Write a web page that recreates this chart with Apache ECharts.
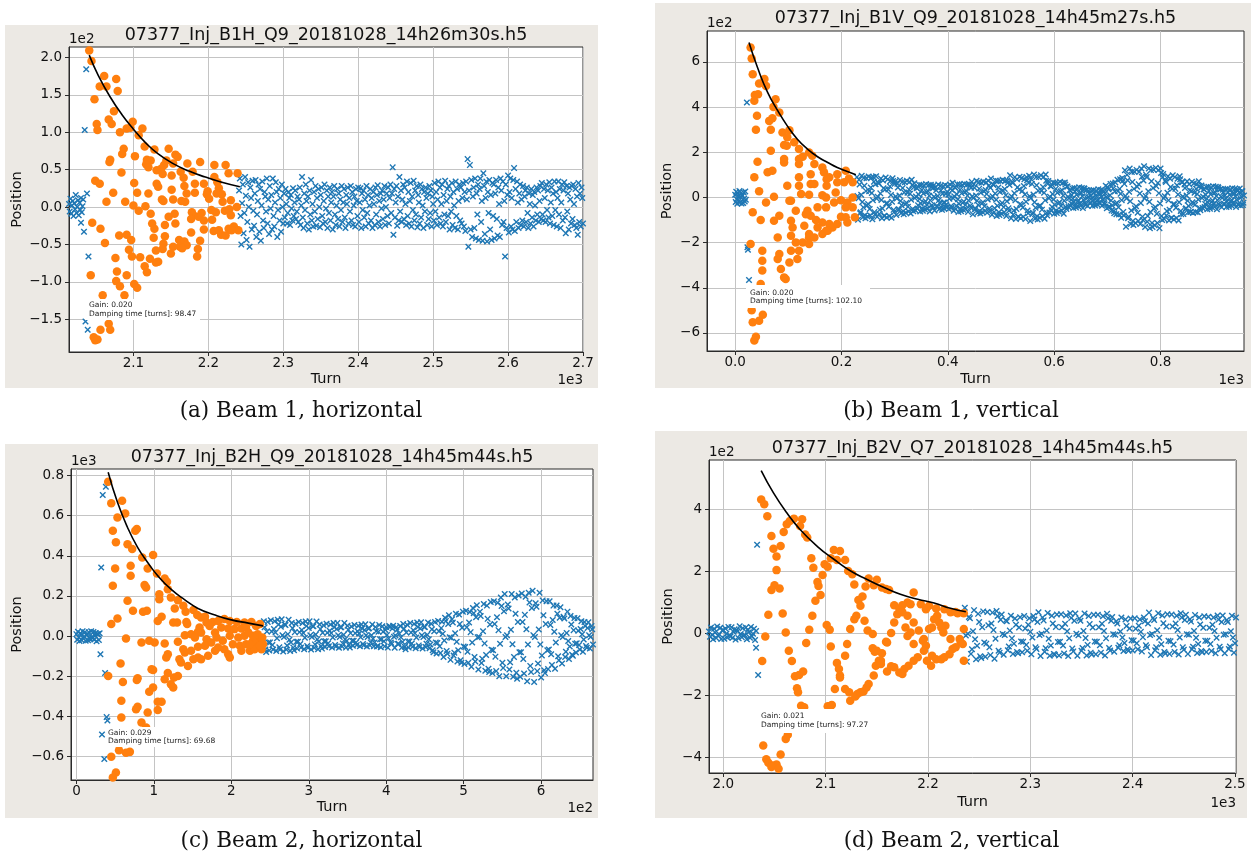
<!DOCTYPE html>
<html>
<head>
<meta charset="utf-8">
<script src="https://cdn.jsdelivr.net/npm/echarts@6/dist/echarts.min.js"></script>
<style>
html, body { margin: 0; padding: 0; background: #ffffff; }
#chart { width: 1251px; height: 859px; }
</style>
</head>
<body>
<div id="chart"></div>
<script>
// ===== Beam 1, horizontal (B1H) =====
const b1hTitle = '07377_Inj_B1H_Q9_20181028_14h26m30s.h5';
const b1hCaption = '(a) Beam 1, horizontal';
const b1hNote = ['Gain: 0.020', 'Damping time [turns]: 98.47'];
const b1hXRange = [2014, 2700];
const b1hYRange = [-193.7, 213.8];
const b1hXTicks = [2100, 2200, 2300, 2400, 2500, 2600, 2700];
const b1hYTicks = [-150, -100, -50, 0, 50, 100, 150, 200];
// turn-by-turn position before the kick, starting at turn 2014
const b1hPreStart = 2014;
const b1hPre = [4, -6, 11, -9, 2, 8, -12, 5, -3, 16, -8, 0, 9, -11, 6, -4, 12, -7, 1, 10];
// first turns after the kick that are outside the fit window
const b1hKick = [[2030, -21], [2034, -33], [2035, 103], [2036, -153], [2037, 184], [2038, 18], [2039, -164], [2040, -66]];
// turn-by-turn position after the fit window, starting at turn 2241
const b1hPostStart = 2241;
const b1hPost = [
  22, 38, -12, -50, 5, 30, -35, -8, 40, 15, -44, -20, 33, 0, -53, 26, 12, -30, 35, -5,
  -25, 18, 36, -40, -10, 8, 30, -33, 24, -45, 2, 34, -18, -28, 20, 14, -6, 38, -22, 10,
  -36, 28, -2, 16, -30, 38, -12, -26, 6, 33, 20, -40, -4, 24, -18, 12, -33, 30, 0, -22,
  18, -14, 24, 4, -22, -8, 20, 12, -24, 16, -2, -18, 25, -12, 6, 22, -16, -6, 14, -20,
  10, 26, -24, 2, 40, -14, -28, 18, -4, 30, 8, -22, 14, -30, 22, -10, 36, -18, 4, -26,
  20, -6, 28, -25, 12, -16, 24, 0, -27, 16, 26, -12, -22, 8, 30, -20, -2, 22, -28, 14,
  -8, 26, -18, 6, 20, -30, 14, 28, -10, -24, 2, 24, -16, 18, -26, 10, -4, 28, -20, 6,
  24, -14, -28, 16, 4, 26, -22, 12, -6, 28, -18, 20, -24, 2, 14, -26, 24, 8, -12, 26,
  -20, 6, 25, -28, 18, -4, 22, -14, 10, -26, 28, -8, 16, -22, 2, 24, -18, 12, -28, 20,
  4, -24, 26, -10, 16, 29, -20, 8, -26, 18, -2, 22, -16, 10, 28, -24, 0, 18, -12, 26,
  -22, 12, 30, -8, 18, 53, -37, 24, -14, 6, 28, -25, 14, -18, 40, -6, 22, -20, 10, 30,
  -16, 26, 4, -24, 34, -12, 20, -22, 8, 32, -26, 14, -4, 35, -18, 22, -10, 28, -27, 16,
  6, -22, 30, -14, 24, 2, -28, 20, -6, 26, 12, -24, 18, -16, 28, -8, 22, -26, 14, 4,
  -18, 32, -6, 20, -24, 10, 34, -14, 26, -22, 4, 30, -26, 16, -10, 35, -20, 8, 24, -12,
  28, -30, 14, -6, 32, -24, 20, 2, -28, 34, -12, 24, -30, 8, 30, -18, 26, -22, 12, 32,
  -26, 20, -32, 34, 10, 64, -53, 22, 56, -30, 36, -40, 14, 26, -28, 38, -42, 18, -10, 30,
  -44, 24, 38, -20, 8, -45, 45, 28, -36, 12, 34, -46, 20, -8, 36, -30, 16, -44, 32, -12,
  30, -42, 18, 36, -16, -38, 26, 4, -40, 38, 22, -24, 34, -20, 8, -66, 30, -28, 16, 42,
  -34, 20, 38, -26, 12, -30, 36, 52, -32, 24, -20, 34, 6, -28, 18, 30, -24, 10, -18, 28,
  -26, 14, 22, -20, 26, -8, -28, 18, 4, -22, 24, -14, 16, -26, 20, 2, -18, 26, -10, 22,
  -20, 8, 28, -16, 32, -10, -18, 24, 12, -20, 30, -4, 22, -14, 33, -22, 6, 26, -12, 18,
  -24, 34, -4, 20, -26, 12, 34, -10, 24, -28, 6, 30, -18, 22, 33, -14, -35, 28, -6, 18,
  -30, 26, 10, -22, 28, -16, 30, 4, -24, 24, -28, 14, -37, 32, -20, 18, -26, 26, 12, -22
];
// points inside the fit window [turn, position]
const b1hFitPoints = [
  [2041, 209], [2044, 195], [2061, 175], [2077, 171], [2055, 161], [2064, 161], [2079, 155], [2048, 144],
  [2074, 128], [2067, 117], [2071, 111], [2051, 111], [2052, 103], [2099, 114], [2082, 100], [2091, 105],
  [2096, 106], [2112, 105], [2107, 96], [2115, 81], [2087, 78], [2085, 71], [2102, 68], [2128, 77],
  [2147, 78], [2069, 63], [2068, 60], [2118, 63], [2123, 62], [2156, 70], [2159, 67], [2144, 62],
  [2141, 56], [2117, 57], [2120, 53], [2131, 49], [2137, 51], [2139, 44], [2151, 42], [2153, 58],
  [2172, 58], [2189, 60], [2208, 56], [2223, 56], [2163, 47], [2179, 47], [2084, 46], [2049, 35],
  [2055, 31], [2101, 32], [2131, 31], [2133, 27], [2167, 39], [2194, 31], [2208, 40], [2227, 45],
  [2239, 45], [2212, 33], [2151, 23], [2168, 28], [2182, 31], [2199, 21], [2214, 25], [2073, 19],
  [2105, 19], [2120, 18], [2138, 10], [2140, 8], [2153, 10], [2164, 8], [2169, 7], [2171, 18],
  [2182, 19], [2198, 17], [2201, 11], [2211, 18], [2218, 17], [2219, 7], [2230, 9], [2064, 7],
  [2089, 7], [2100, 2], [2116, 1], [2107, -5], [2123, -9], [2155, -9], [2147, -13], [2178, -7],
  [2180, -11], [2191, -8], [2204, -4], [2210, -7], [2222, -5], [2228, -3], [2238, 0], [2177, -16],
  [2187, -13], [2194, -18], [2205, -17], [2230, -11], [2045, -21], [2056, -29], [2125, -22], [2128, -29],
  [2142, -24], [2156, -22], [2194, -30], [2207, -32], [2214, -31], [2217, -37], [2223, -38], [2227, -29],
  [2234, -26], [2240, -31], [2231, -31], [2081, -38], [2091, -37], [2097, -44], [2127, -41], [2142, -39],
  [2177, -34], [2140, -49], [2161, -44], [2168, -46], [2171, -51], [2162, -53], [2189, -45], [2153, -53],
  [2062, -48], [2094, -57], [2139, -56], [2165, -55], [2186, -56], [2130, -58], [2150, -62], [2076, -68],
  [2098, -66], [2109, -67], [2122, -69], [2133, -73], [2130, -74], [2185, -66], [2115, -79], [2118, -87],
  [2078, -86], [2091, -91], [2043, -91], [2077, -99], [2082, -106], [2101, -103], [2105, -108], [2088, -118],
  [2059, -118], [2067, -156], [2056, -164], [2069, -164], [2047, -174], [2049, -178], [2052, -177]
];
// fitted damping envelope
const b1hEnvelope = [
  [2041, 203], [2053, 176], [2069, 147], [2085, 123], [2100, 104], [2116, 86], [2133, 71],
  [2153, 58], [2174, 48], [2196, 40], [2218, 33], [2242, 27]
];

// ===== Beam 1, vertical (B1V) =====
const b1vTitle = '07377_Inj_B1V_Q9_20181028_14h45m27s.h5';
const b1vCaption = '(b) Beam 1, vertical';
const b1vNote = ['Gain: 0.020', 'Damping time [turns]: 102.10'];
const b1vXRange = [-53, 957];
const b1vYRange = [-680, 737];
const b1vXTicks = [0, 200, 400, 600, 800];
const b1vYTicks = [-600, -400, -200, 0, 200, 400, 600];
const b1vPreStart = 0;
const b1vPre = [12, -20, 25, -8, -28, 18, 5, -15, 28, -22, 2, 20, -27, 10, 8, -25, 22, -5, -18, 26, -10];
const b1vKick = [[22, 420], [23, -221], [24, -232], [26, -366]];
const b1vPostStart = 229;
const b1vPost = [
  90, 6, -99, -4, 78, 57, -70, -66, 12, 96, -20, -88, -44, 86, 52, -79, -92, 28, 85, -36, -84, -29, 93, 27, -51, -80, 44, 88, 20, -97, -12, 90, 70, -65, -76, 58,
  94, -5, -86, 3, 66, 62, -73, -54, 18, 84, -11, -92, -49, 75, 41, -82, -81, 35, 88, -27, -89, -26, 80, 35, -41, -83, 49, 73, 11, -90, -19, 85, 73, -55, -64, 61,
  71, 4, -78, -5, 61, 44, -55, -52, 9, 77, -16, -70, -35, 68, 42, -61, -74, 22, 67, -30, -68, -23, 74, 21, -41, -62, 35, 69, 16, -71, -10, 78, 55, -51, -61, 45,
  63, -3, -57, 4, 43, 41, -49, -35, 13, 56, -7, -62, -27, 55, 33, -49, -59, 17, 53, -23, -53, -17, 59, 24, -33, -49, 27, 55, 7, -62, -13, 56, 49, -35, -43, 41,
  52, 3, -58, -2, 45, 32, -39, -38, 6, 57, -12, -51, -25, 51, 31, -45, -55, 16, 49, -22, -49, -22, 55, 16, -31, -45, 25, 51, 12, -51, -6, 57, 39, -38, -45, 32,
  65, -4, -59, 5, 45, 43, -51, -37, 14, 58, -8, -64, -28, 57, 34, -51, -61, 18, 55, -24, -55, -18, 61, 24, -34, -51, 28, 57, 8, -64, -14, 58, 51, -37, -45, 43,
  69, 5, -75, -3, 58, 43, -52, -49, 9, 74, -15, -68, -33, 66, 39, -60, -71, 21, 65, -27, -65, -21, 71, 27, -39, -60, 33, 66, 15, -68, -9, 74, 52, -49, -58, 43,
  84, -4, -77, 5, 58, 55, -65, -48, 17, 75, -10, -82, -37, 73, 44, -66, -78, 24, 72, -31, -72, -24, 78, 30, -43, -66, 37, 74, 10, -82, -17, 75, 65, -48, -59, 55,
  98, -5, -92, 4, 70, 64, -76, -58, 19, 90, -13, -96, -51, 80, 45, -86, -86, 35, 92, -29, -92, -35, 86, 29, -45, -86, 51, 80, 13, -96, -19, 90, 76, -58, -70, 64,
  96, 5, -104, -4, 80, 60, -74, -68, 13, 102, -21, -94, -46, 90, 54, -83, -98, 30, 90, -38, -90, -37, 98, 30, -54, -83, 46, 91, 21, -94, -13, 102, 74, -68, -80, 60,
  73, -4, -67, 3, 51, 48, -57, -42, 15, 66, -9, -72, -32, 64, 38, -58, -69, 21, 63, -27, -63, -21, 69, 27, -38, -58, 32, 64, 9, -72, -15, 66, 57, -42, -51, 48,
  48, 3, -42, -4, 32, 32, -38, -26, 11, 41, -5, -47, -20, 42, 26, -36, -45, 12, 39, -18, -39, -12, 45, 18, -26, -36, 20, 42, 5, -47, -11, 41, 38, -26, -32, 32,
  33, -3, -38, 2, 30, 19, -24, -25, 9, 31, -3, -37, -15, 33, 21, -27, -36, 9, 30, -15, -30, -9, 36, 15, -21, -27, 15, 33, 3, -37, -9, 31, 24, -25, -30, 19,
  52, 2, -48, -3, 45, 36, -42, -40, 10, 60, -14, -58, -36, 62, 40, -60, -70, 26, 66, -28, -74, -24, 78, 28, -44, -76, 38, 80, 16, -90, -12, 86, 74, -64, -80, 60,
  120, 6, -130, -5, 100, 76, -92, -85, 25, 128, -17, -118, -58, 113, 68, -104, -122, 38, 114, -48, -113, -39, 122, 47, -68, -104, 58, 114, 17, -118, -25, 128, 92, -85, -100, 75,
  138, -5, -131, 6, 100, 90, -108, -82, 27, 128, -19, -136, -64, 121, 72, -113, -131, 42, 123, -50, -123, -42, 131, 50, -72, -113, 64, 121, 19, -136, -27, 128, 108, -82, -100, 90,
  104, -4, -96, 5, 74, 68, -80, -60, 21, 94, -13, -102, -54, 83, 46, -91, -90, 38, 98, -30, -98, -30, 90, 38, -46, -91, 54, 83, 13, -102, -21, 94, 80, -60, -74, 68,
  67, 4, -73, -3, 57, 42, -51, -48, 9, 72, -15, -66, -38, 58, 32, -64, -63, 27, 69, -21, -69, -27, 63, 21, -32, -64, 38, 58, 15, -66, -9, 72, 51, -48, -57, 42,
  53, -3, -47, 4, 36, 35, -42, -29, 12, 46, -6, -52, -22, 47, 28, -41, -50, 14, 44, -20, -44, -14, 50, 20, -28, -41, 22, 47, 6, -52, -12, 46, 42, -29, -36, 35,
  37, 3, -43, -2, 34, 23, -28, -29, 10, 36, -4, -42, -17, 38, 23, -32, -41, 11, 35, -17, -35, -11, 41, 17, -23, -32, 17, 38, 4, -42, -10, 36, 28, -29, -34, 23,
  40, -3, -36, 4, 29, 27, -33, -23, 9
];
const b1vFitPoints = [
  [29, 664], [31, 615], [33, 546], [45, 505], [55, 524], [58, 494], [37, 454], [43, 457], [36, 428], [76, 435],
  [72, 401], [83, 376], [64, 339], [70, 351], [41, 362], [39, 300], [67, 300], [89, 288], [102, 298], [98, 266],
  [111, 244], [92, 232], [97, 229], [120, 214], [67, 207], [127, 180], [139, 199], [145, 185], [42, 158], [92, 170],
  [92, 155], [120, 170], [120, 148], [149, 148], [164, 133], [61, 111], [70, 118], [120, 89], [142, 103], [167, 111],
  [177, 89], [192, 103], [208, 118], [214, 84], [36, 89], [98, 52], [120, 52], [142, 59], [149, 59], [172, 81],
  [172, 52], [192, 67], [205, 67], [221, 67], [45, 27], [73, 3], [105, -15], [124, 15], [139, 12], [164, 10],
  [171, 0], [189, 22], [199, -12], [211, -22], [221, 0], [58, -22], [102, -15], [114, -59], [136, -59], [142, -81],
  [155, -44], [171, -44], [186, -22], [208, -44], [221, -44], [33, -66], [83, -81], [105, -103], [133, -74], [152, -100],
  [164, -111], [177, -118], [199, -86], [208, -88], [225, -88], [48, -100], [73, -103], [108, -133], [130, -125], [139, -162],
  [155, -133], [171, -147], [183, -133], [192, -118], [211, -111], [80, -177], [105, -170], [139, -177], [149, -177], [164, -162],
  [174, -147], [29, -206], [114, -199], [127, -199], [139, -206], [51, -236], [105, -236], [120, -236], [83, -251], [117, -273],
  [51, -280], [80, -273], [102, -288], [86, -317], [92, -354], [95, -361], [51, -324], [48, -383], [64, -465], [45, -546],
  [33, -553], [39, -617], [36, -634], [31, -500], [52, -520]
];
const b1vEnvelope = [
  [26, 686], [42, 575], [61, 465], [80, 384], [98, 317], [117, 258], [136, 214], [155, 180],
  [174, 155], [192, 133], [211, 115], [227, 100]
];

// ===== Beam 2, horizontal (B2H) =====
const b2hTitle = '07377_Inj_B2H_Q9_20181028_14h45m44s.h5';
const b2hCaption = '(c) Beam 2, horizontal';
const b2hNote = ['Gain: 0.029', 'Damping time [turns]: 69.68'];
const b2hXRange = [-7, 667];
const b2hYRange = [-716, 832];
const b2hXTicks = [0, 100, 200, 300, 400, 500, 600];
const b2hYTicks = [-600, -400, -200, 0, 200, 400, 600, 800];
const b2hPreStart = 0;
const b2hPre = [10, -18, 22, -5, -24, 15, 8, -20, 25, -12, -2, 19, -23, 6, 12, -21, 20, -9, -15, 24, -4, -10, 21, -17, 3, 16, -25, 9, 11, -19, 14];
const b2hKick = [[31, -90], [32, 342], [33, -490], [34, 703], [36, -611], [37, -183], [38, 744], [39, -403], [40, -420]];
const b2hPostStart = 241;
const b2hPost = [
  -36, 74, 44, -66, -79, 23, 71, -31, -71, -31, 79, 23, -44, -66, 36, 74, 18, -74, -10, 82, 58, -55, -66, 47, 84, 4, -76, -4, 58, 55, -66, -47, 10, 82, -18, -74,
  -31, 65, 39, -57, -70, 20, 62, -28, -62, -28, 70, 20, -39, -57, 31, 65, 16, -65, -8, 73, 50, -49, -58, 41, 74, 4, -66, -4, 50, 49, -58, -41, 8, 73, -16, -65,
  -27, 58, 35, -50, -62, 17, 54, -25, -54, -25, 62, 17, -35, -50, 27, 58, 15, -57, -7, 65, 44, -44, -52, 36, 66, 4, -58, -4, 44, 44, -52, -36, 7, 65, -15, -57,
  -24, 52, 32, -44, -56, 15, 48, -23, -48, -23, 56, 15, -32, -44, 24, 52, 13, -50, -5, 58, 38, -39, -46, 31, 59, 4, -51, -4, 38, 39, -46, -31, 5, 58, -13, -50,
  -31, 45, 25, -51, -49, 22, 55, -16, -55, -16, 49, 22, -25, -51, 31, 45, 6, -57, -12, 51, 45, -32, -39, 38, 52, -3, -58, 3, 45, 32, -39, -38, 12, 51, -6, -57,
  -29, 61, 37, -53, -65, 18, 57, -26, -57, -26, 65, 18, -37, -53, 29, 61, 15, -60, -7, 68, 46, -46, -54, 38, 69, 4, -61, -4, 46, 46, -54, -38, 7, 68, -15, -60,
  -42, 62, 34, -70, -80, 24, 70, -32, -86, -34, 76, 24, -50, -84, 40, 72, 12, -104, -22, 92, 76, -74, -88, 60, 104, -6, -118, -8, 84, 68, -96, -82, 14, 112, -28, -126,
  -70, 108, 60, -120, -132, 42, 122, -52, -138, -54, 126, 44, -78, -132, 68, 120, 20, -152, -32, 140, 114, -104, -126, 94, 154, -6, -166, -4, 122, 100, -134, -112, 24, 160, -36, -172,
  -94, 152, 86, -162, -178, 58, 170, -68, -184, -70, 174, 60, -102, -174, 94, 166, 30, -200, -38, 192, 150, -132, -158, 124, 210, -4, -200, 4, 158, 138, -166, -130, 32, 210, -40, -202,
  -104, 192, 112, -182, -212, 70, 202, -80, -202, -80, 212, 70, -114, -186, 106, 196, 34, -224, -42, 216, 168, -148, -178, 140, 226, 5, -228, -4, 164, 146, -174, -136, 33, 216, -41, -206,
  -96, 178, 104, -170, -184, 60, 174, -70, -164, -66, 174, 56, -90, -144, 80, 152, 22, -162, -32, 152, 112, -100, -120, 92, 144, 4, -136, -4, 96, 88, -104, -78, 16, 122, -24, -114,
  -52, 100, 58, -92, -98, 30, 90, -38, -81, -35, 89, 27, -44, -66, 36, 74, 9, -78, -17, 70, 50, -49, -58, 41, 69, 4, -61, -4, 50, 34, -42
];
const b2hFitPoints = [
  [41, 769], [59, 674], [45, 661], [63, 611], [53, 591], [78, 533], [76, 525], [47, 525], [51, 467], [66, 458],
  [72, 434], [85, 392], [99, 404], [50, 337], [70, 350], [70, 301], [92, 337], [104, 312], [114, 287], [117, 271],
  [47, 251], [88, 254], [90, 242], [118, 234], [122, 193], [107, 209], [107, 184], [131, 179], [138, 151], [127, 138],
  [66, 176], [73, 126], [86, 121], [91, 126], [110, 96], [105, 76], [125, 68], [130, 68], [141, 121], [142, 71],
  [143, 60], [151, 130], [156, 105], [161, 93], [166, 96], [168, 68], [176, 71], [183, 76], [191, 85], [198, 76],
  [207, 71], [217, 68], [226, 71], [232, 51], [237, 60], [45, 60], [53, 88], [159, 43], [161, 18], [157, 22],
  [172, 51], [179, 18], [187, 43], [196, 38], [204, 35], [213, 38], [219, 43], [140, 5], [148, 10], [153, -7],
  [114, -37], [131, -28], [94, -23], [101, -32], [84, -32], [64, -12], [168, -15], [174, -32], [181, -7], [189, -23],
  [198, 2], [209, -7], [217, 2], [228, 2], [235, -15], [239, -32], [138, -65], [140, -81], [148, -73], [157, -53],
  [166, -48], [183, -57], [191, -65], [202, -40], [211, -48], [219, -40], [226, -57], [232, -40], [239, -65], [118, -90],
  [116, -106], [133, -115], [135, -131], [144, -148], [151, -115], [157, -106], [161, -115], [170, -98], [179, -73], [196, -90],
  [198, -106], [213, -73], [224, -73], [57, -136], [41, -198], [97, -165], [99, -168], [79, -210], [78, -218], [118, -184],
  [126, -206], [131, -198], [114, -214], [122, -239], [125, -256], [60, -228], [99, -256], [94, -277], [58, -322], [105, -326],
  [110, -327], [105, -367], [79, -351], [77, -364], [92, -380], [58, -405], [84, -430], [90, -455], [69, -576], [64, -580],
  [45, -600], [51, -679], [47, -704], [54, -520], [55, -568], [222, 18], [228, -23], [234, 10], [240, -7], [230, -65],
  [224, -40], [241, -40], [237, -48]
];
const b2hEnvelope = [
  [41, 816], [53, 666], [66, 541], [79, 442], [92, 367], [105, 301], [122, 234], [140, 181],
  [157, 138], [179, 105], [200, 81], [222, 65], [241, 51]
];

// ===== Beam 2, vertical (B2V) =====
const b2vTitle = '07377_Inj_B2V_Q7_20181028_14h45m44s.h5';
const b2vCaption = '(d) Beam 2, vertical';
const b2vNote = ['Gain: 0.021', 'Damping time [turns]: 97.27'];
const b2vXRange = [1986, 2501];
const b2vYRange = [-451, 558];
const b2vXTicks = [2000, 2100, 2200, 2300, 2400, 2500];
const b2vYTicks = [-400, -200, 0, 200, 400];
const b2vPreStart = 1986;
const b2vPre = [5, -12, 18, -6, -20, 14, 2, -16, 21, -9, -4, 17, -19, 8, 10, -18, 15, -2, -14, 20, -7, -11, 19, -15, 4, 12, -21, 9, 6, -17, 22, -3, -13, 16, -8, -6, 18, -20, 11, 3, -15, 20, -10, -2, 14, -22, 7];
const b2vKick = [[2032, -47], [2033, 285], [2034, -135]];
const b2vPostStart = 2236;
const b2vPost = [
  82, -8, -92, -2, 52, 48, -67, -52, 6, 74, -20, -84, -41, 62, 36, -75, -80, 19, 70, -30, -76, -34, 68, 25, -46, -71, 31, 66, 10, -83, -18, 71, 55, -57, -63, 43,
  60, -3, -70, -6, 41, 38, -55, -43, 8, 56, -17, -67, -34, 47, 27, -61, -65, 18, 51, -27, -62, -28, 55, 15, -38, -57, 27, 48, 4, -68, -14, 55, 44, -46, -51, 36,
  67, -6, -74, -2, 50, 41, -60, -49, 8, 65, -18, -73, -40, 56, 31, -67, -70, 20, 60, -29, -72, -28, 61, 19, -40, -66, 30, 57, 6, -74, -17, 64, 49, -50, -59, 40,
  63, -2, -73, -7, 47, 40, -57, -48, 7, 63, -16, -72, -38, 55, 29, -63, -69, 18, 59, -27, -68, -28, 59, 19, -39, -63, 30, 54, 7, -72, -17, 62, 48, -48, -56, 40,
  52, -4, -60, -5, 38, 31, -47, -39, 5, 50, -14, -58, -32, 44, 23, -52, -57, 15, 47, -23, -56, -24, 48, 14, -33, -52, 24, 44, 4, -59, -13, 50, 38, -39, -46, 31,
  66, -6, -71, -3, 49, 42, -55, -46, 9, 64, -15, -70, -36, 57, 32, -61, -66, 21, 61, -25, -67, -26, 60, 21, -37, -61, 31, 56, 10, -69, -14, 64, 50, -46, -54, 42,
  59, -4, -67, -5, 45, 37, -52, -44, 7, 58, -15, -64, -35, 50, 28, -58, -62, 17, 54, -25, -61, -25, 53, 17, -35, -58, 27, 50, 7, -65, -15, 57, 44, -44, -52, 36,
  57, -5, -65, -4, 42, 36, -51, -43, 6, 56, -14, -63, -33, 50
];
const b2vFitPoints = [
  [2037, 431], [2040, 415], [2043, 377], [2062, 351], [2065, 361], [2069, 369], [2077, 367], [2075, 345], [2059, 326], [2080, 318],
  [2082, 308], [2047, 313], [2056, 281], [2049, 272], [2052, 247], [2108, 268], [2114, 265], [2105, 241], [2111, 236], [2119, 236],
  [2122, 200], [2126, 190], [2099, 222], [2102, 214], [2086, 241], [2088, 211], [2097, 187], [2052, 203], [2142, 176], [2150, 172],
  [2147, 154], [2155, 147], [2159, 142], [2162, 139], [2128, 157], [2139, 150], [2050, 154], [2047, 139], [2055, 144], [2092, 165],
  [2093, 152], [2095, 123], [2136, 118], [2132, 107], [2134, 88], [2186, 131], [2180, 99], [2183, 93], [2167, 90], [2172, 79],
  [2175, 90], [2193, 93], [2198, 77], [2208, 79], [2201, 88], [2216, 77], [2222, 67], [2229, 64], [2235, 64], [2227, 68],
  [2209, 56], [2206, 45], [2211, 34], [2170, 61], [2180, 56], [2175, 67], [2090, 104], [2044, 59], [2058, 63], [2087, 56],
  [2130, 56], [2128, 45], [2138, 40], [2167, 34], [2178, 18], [2186, 34], [2191, 8], [2201, 13], [2204, 18], [2217, 24],
  [2235, 13], [2213, 18], [2101, 26], [2104, 11], [2084, 11], [2124, 13], [2141, 8], [2146, -3], [2164, 0], [2160, -30],
  [2159, -28], [2183, 2], [2180, -9], [2196, -19], [2215, 2], [2222, -19], [2231, -19], [2232, -30], [2227, -46], [2224, -51],
  [2041, -11], [2061, 2], [2081, -32], [2105, -43], [2121, -35], [2146, -49], [2148, -60], [2150, -57], [2155, -65], [2186, -35],
  [2195, -25], [2198, -41], [2196, -57], [2204, -73], [2208, -84], [2213, -84], [2216, -78], [2221, -68], [2234, -35], [2235, -89],
  [2038, -90], [2064, -57], [2067, -90], [2119, -73], [2111, -96], [2152, -89], [2149, -105], [2154, -89], [2154, -100], [2160, -124],
  [2164, -107], [2167, -110], [2172, -127], [2175, -132], [2177, -116], [2181, -105], [2186, -89], [2190, -78], [2199, -89], [2203, -105],
  [2070, -139], [2074, -135], [2078, -124], [2113, -116], [2114, -137], [2114, -143], [2147, -137], [2072, -178], [2073, -191], [2109, -180],
  [2119, -180], [2123, -191], [2124, -218], [2129, -204], [2131, -196], [2134, -191], [2137, -188], [2140, -175], [2142, -164], [2076, -234],
  [2079, -239], [2102, -236], [2105, -234], [2106, -232], [2063, -328], [2061, -341], [2039, -362], [2056, -391], [2042, -407], [2044, -418],
  [2048, -427], [2052, -424], [2047, -432], [2054, -437]
];
const b2vEnvelope = [
  [2037, 524], [2049, 452], [2062, 388], [2075, 334], [2092, 279], [2108, 238], [2124, 201],
  [2141, 172], [2157, 147], [2173, 125], [2190, 109], [2206, 97], [2222, 80], [2237, 69]
];

// ===== page layout (pixels) =====
const FONT = '"DejaVu Sans", Verdana, sans-serif';
const SERIF = '"DejaVu Serif", "Liberation Serif", serif';
const BLUE = '#1f77b4';
const ORANGE = '#ff7f0e';
const FRAME = '#ece9e4';
const CROSS = 'path://M0,1.5L1.5,0L5,3.5L8.5,0L10,1.5L6.5,5L10,8.5L8.5,10L5,6.5L1.5,10L0,8.5L3.5,5Z';

function minusSign(s) { return s.replace('-', '\u2212'); }
function scaled(div, dec) { return v => minusSign((v / div).toFixed(dec)); }

const panels = [
  {
    title: b1hTitle, caption: b1hCaption, note: b1hNote,
    xRange: b1hXRange, yRange: b1hYRange, xTicks: b1hXTicks, yTicks: b1hYTicks,
    xFmt: scaled(1000, 1), yFmt: scaled(100, 1), xExp: '1e3', yExp: '1e2',
    preStart: b1hPreStart, pre: b1hPre, kick: b1hKick, postStart: b1hPostStart, post: b1hPost,
    fit: b1hFitPoints, env: b1hEnvelope,
    frame: [5, 25, 593, 363], grid: [69, 47, 514, 305], titleY: 35, capPos: [301, 411],
    noteBox: [85, 299, 115, 21], notePos: [89, 305.5], yGap: 44, xGap: 20
  },
  {
    title: b1vTitle, caption: b1vCaption, note: b1vNote,
    xRange: b1vXRange, yRange: b1vYRange, xTicks: b1vXTicks, yTicks: b1vYTicks,
    xFmt: scaled(1000, 1), yFmt: scaled(100, 0), xExp: '1e3', yExp: '1e2',
    preStart: b1vPreStart, pre: b1vPre, kick: b1vKick, postStart: b1vPostStart, post: b1vPost,
    fit: b1vFitPoints, env: b1vEnvelope,
    frame: [655, 3, 596, 385], grid: [707, 31, 537, 320], titleY: 18.5, capPos: [951, 411],
    noteBox: [746, 285, 124, 23], notePos: [750, 292.7], yGap: 32, xGap: 21
  },
  {
    title: b2hTitle, caption: b2hCaption, note: b2hNote,
    xRange: b2hXRange, yRange: b2hYRange, xTicks: b2hXTicks, yTicks: b2hYTicks,
    xFmt: scaled(100, 0), yFmt: scaled(1000, 1), xExp: '1e2', yExp: '1e3',
    preStart: b2hPreStart, pre: b2hPre, kick: b2hKick, postStart: b2hPostStart, post: b2hPost,
    fit: b2hFitPoints, env: b2hEnvelope,
    frame: [5, 444, 593, 374], grid: [71, 469, 522, 311], titleY: 457, capPos: [301.5, 841],
    noteBox: [106, 727, 111, 20], notePos: [108, 733], yGap: 46, xGap: 20
  },
  {
    title: b2vTitle, caption: b2vCaption, note: b2vNote,
    xRange: b2vXRange, yRange: b2vYRange, xTicks: b2vXTicks, yTicks: b2vYTicks,
    xFmt: scaled(1000, 1), yFmt: scaled(100, 0), xExp: '1e3', yExp: '1e2',
    preStart: b2vPreStart, pre: b2vPre, kick: b2vKick, postStart: b2vPostStart, post: b2vPost,
    fit: b2vFitPoints, env: b2vEnvelope,
    frame: [655, 431, 592, 387], grid: [709, 460, 527, 313], titleY: 448, capPos: [951.5, 841],
    noteBox: [758, 709, 112, 24], notePos: [761, 716.3], yGap: 33, xGap: 22
  }
];

const option = {
  animation: false,
  backgroundColor: '#ffffff',
  grid: [], xAxis: [], yAxis: [], series: [], graphic: []
};

panels.forEach((p, i) => {
  const [gl, gt, gw, gh] = p.grid;
  option.grid.push({
    left: gl, top: gt, width: gw, height: gh,
    show: true, backgroundColor: '#ffffff', borderColor: '#2b2b2b', borderWidth: 1,
    containLabel: false, outerBoundsMode: 'none'
  });
  option.xAxis.push({
    type: 'value', gridIndex: i, min: p.xRange[0], max: p.xRange[1],
    name: 'Turn', nameLocation: 'middle', nameGap: p.xGap,
    nameTextStyle: { fontFamily: FONT, fontSize: 14.5, color: '#111' },
    axisLine: { show: true, onZero: false, lineStyle: { color: '#2b2b2b', width: 1 } },
    axisTick: { show: true, length: 4, customValues: p.xTicks, lineStyle: { color: '#2b2b2b' } },
    axisLabel: { customValues: p.xTicks, formatter: p.xFmt, margin: 4, fontFamily: FONT, fontSize: 13.5, color: '#111' },
    splitLine: { show: true, lineStyle: { color: '#c4c4c4', width: 1 } }
  });
  option.yAxis.push({
    type: 'value', gridIndex: i, min: p.yRange[0], max: p.yRange[1],
    name: 'Position', nameLocation: 'middle', nameGap: p.yGap,
    nameTextStyle: { fontFamily: FONT, fontSize: 14.5, color: '#111' },
    axisLine: { show: true, onZero: false, lineStyle: { color: '#2b2b2b', width: 1 } },
    axisTick: { show: true, length: 4, customValues: p.yTicks, lineStyle: { color: '#2b2b2b' } },
    axisLabel: { customValues: p.yTicks, formatter: p.yFmt, margin: 7, fontFamily: FONT, fontSize: 13.5, color: '#111' },
    splitLine: { show: true, lineStyle: { color: '#c4c4c4', width: 1 } }
  });

  const bluePts = p.pre.map((v, k) => [p.preStart + k, v])
    .concat(p.kick)
    .concat(p.post.map((v, k) => [p.postStart + k, v]));

  option.series.push({
    type: 'scatter', xAxisIndex: i, yAxisIndex: i, data: bluePts,
    symbol: CROSS, symbolSize: 6.5, itemStyle: { color: BLUE, opacity: 1 }, z: 2, silent: true
  });
  option.series.push({
    type: 'scatter', xAxisIndex: i, yAxisIndex: i, data: p.fit,
    symbol: 'circle', symbolSize: 8.5, itemStyle: { color: ORANGE, opacity: 1 }, z: 3, silent: true
  });
  option.series.push({
    type: 'line', xAxisIndex: i, yAxisIndex: i, data: p.env, smooth: true,
    showSymbol: false, lineStyle: { color: '#000000', width: 1.6 }, z: 4, silent: true
  });

  const [fx, fy, fw, fh] = p.frame;
  option.graphic.push({ type: 'rect', z: -100, shape: { x: fx, y: fy, width: fw, height: fh }, style: { fill: FRAME }, silent: true });
  option.graphic.push({
    type: 'text', z: 10, x: gl + gw / 2, y: p.titleY,
    style: { text: p.title, font: '17.5px ' + FONT, fill: '#111', align: 'center', verticalAlign: 'middle' }
  });
  option.graphic.push({
    type: 'text', z: 10, x: gl, y: gt - 8,
    style: { text: p.yExp, font: '13.5px ' + FONT, fill: '#111', align: 'left', verticalAlign: 'middle' }
  });
  option.graphic.push({
    type: 'text', z: 10, x: gl + gw, y: gt + gh + p.xGap + 8.5,
    style: { text: p.xExp, font: '13.5px ' + FONT, fill: '#111', align: 'right', verticalAlign: 'middle' }
  });
  const [nx, ny, nw, nh] = p.noteBox;
  option.graphic.push({ type: 'rect', z: 50, shape: { x: nx, y: ny, width: nw, height: nh }, style: { fill: '#ffffff' }, silent: true });
  option.graphic.push({
    type: 'text', z: 51, x: p.notePos[0], y: p.notePos[1],
    style: { text: p.note[0], font: '7.5px ' + FONT, fill: '#222', align: 'left', verticalAlign: 'middle' }
  });
  option.graphic.push({
    type: 'text', z: 51, x: p.notePos[0], y: p.notePos[1] + 8.3,
    style: { text: p.note[1], font: '7.5px ' + FONT, fill: '#222', align: 'left', verticalAlign: 'middle' }
  });
  option.graphic.push({
    type: 'text', z: 10, x: p.capPos[0], y: p.capPos[1],
    style: { text: p.caption, font: '21.5px ' + SERIF, fill: '#111', align: 'center', verticalAlign: 'middle' }
  });
});

const chart = echarts.init(document.getElementById('chart'), null, { renderer: 'canvas' });
chart.setOption(option);
</script>
</body>
</html>
